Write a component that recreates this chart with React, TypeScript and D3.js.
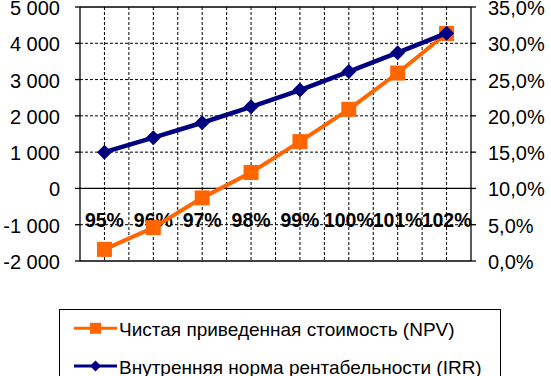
import React from "react";
import * as d3 from "d3";

const categories = ["95%", "96%", "97%", "98%", "99%", "100%", "101%", "102%"];
const npvValues = [-1680, -1080, -260, 440, 1290, 2180, 3180, 4270];
const irrValues = [15.0, 17.0, 19.05, 21.25, 23.55, 26.1, 28.7, 31.4];
const leftTicks = [-2000, -1000, 0, 1000, 2000, 3000, 4000, 5000];
const rightTicks = [0, 5, 10, 15, 20, 25, 30, 35];
const npvLabel = "Чистая приведенная стоимость (NPV)";
const irrLabel = "Внутренняя норма рентабельности (IRR)";

const W = 551, H = 376;
const L = 80, R = 471, T = 7, B = 261;
const ORANGE = "#FF6600";
const NAVY = "#000080";
const FONT = "'Liberation Sans', Arial, sans-serif";

const fmtLeft = (v: number) => {
  const s = Math.abs(v).toString();
  const t = s.length > 3 ? s.slice(0, s.length - 3) + "\u00a0" + s.slice(s.length - 3) : s;
  return (v < 0 ? "-" : "") + t;
};
const fmtRight = (v: number) => v.toFixed(1).replace(".", ",") + "%";

export default function App() {
  const x = d3.scaleBand<string>().domain(categories).range([L, R]).paddingInner(0).paddingOuter(0);
  const yL = d3.scaleLinear().domain([-2000, 5000]).range([B, T]);
  const yR = d3.scaleLinear().domain([0, 35]).range([B, T]);
  const cx = (c: string) => (x(c) as number) + x.bandwidth() / 2;

  const npvLine = d3.line<number>().x((_, i) => cx(categories[i])).y((d) => yL(d));
  const irrLine = d3.line<number>().x((_, i) => cx(categories[i])).y((d) => yR(d));

  const vGrid: number[] = [];
  categories.forEach((c, i) => {
    vGrid.push(cx(c));
    if (i > 0) vGrid.push(x(c) as number);
  });

  const diamond = (px: number, py: number, r: number) =>
    `M${px},${py - r}L${px + r},${py}L${px},${py + r}L${px - r},${py}Z`;

  return (
    <svg width={W} height={H} style={{ position: "absolute", left: 0, top: 0, background: "#fff" }}>
      <rect x={0} y={0} width={W} height={H} fill="#fff" />
      {leftTicks.filter((t) => t !== 0 && t !== -2000 && t !== 5000).map((t) => (
        <line key={"h" + t} x1={L} x2={R} y1={yL(t)} y2={yL(t)} stroke="#000" strokeWidth={1} strokeDasharray="3,2" />
      ))}
      {vGrid.map((v, i) => (
        <line key={"v" + i} x1={v} x2={v} y1={T} y2={B} stroke="#000" strokeWidth={1} strokeDasharray="3,2" />
      ))}
      <line x1={L} x2={R} y1={T} y2={T} stroke="#000" strokeWidth={1.3} />
      <line x1={L} x2={R} y1={B} y2={B} stroke="#000" strokeWidth={1.3} />
      <line x1={L} x2={L} y1={T} y2={B} stroke="#000" strokeWidth={1.3} />
      <line x1={R} x2={R} y1={T} y2={B} stroke="#000" strokeWidth={1.3} />
      <line x1={L} x2={R} y1={yL(0)} y2={yL(0)} stroke="#000" strokeWidth={1.3} />
      {leftTicks.map((t) => (
        <g key={"lt" + t}>
          <line x1={L - 5} x2={L} y1={yL(t)} y2={yL(t)} stroke="#000" strokeWidth={1.3} />
          <text x={60} y={yL(t) + 1} textAnchor="end" dominantBaseline="central" fontFamily={FONT} fontSize={20} fill="#000">
            {fmtLeft(t)}
          </text>
        </g>
      ))}
      {rightTicks.map((t) => (
        <g key={"rt" + t}>
          <line x1={R} x2={R + 5} y1={yR(t)} y2={yR(t)} stroke="#000" strokeWidth={1.3} />
          <text x={488} y={yR(t) + 1} textAnchor="start" dominantBaseline="central" fontFamily={FONT} fontSize={20} fill="#000">
            {fmtRight(t)}
          </text>
        </g>
      ))}
      {categories.map((c) => (
        <text key={"c" + c} x={cx(c)} y={226.7} textAnchor="middle" fontFamily={FONT} fontWeight="bold" fontSize={19.5} fill="#000">
          {c}
        </text>
      ))}
      <path d={npvLine(npvValues) || ""} fill="none" stroke={ORANGE} strokeWidth={4} />
      {npvValues.map((v, i) => (
        <rect key={"n" + i} x={cx(categories[i]) - 7.5} y={yL(v) - 7.5} width={15} height={15} fill={ORANGE} />
      ))}
      <path d={irrLine(irrValues) || ""} fill="none" stroke={NAVY} strokeWidth={4.5} />
      {irrValues.map((v, i) => (
        <path key={"r" + i} d={diamond(cx(categories[i]), yR(v), 7.5)} fill={NAVY} />
      ))}
      <rect x={59.5} y={309.5} width={441} height={80} fill="none" stroke="#000" strokeWidth={1} />
      <line x1={74} x2={117} y1={328.3} y2={328.3} stroke={ORANGE} strokeWidth={3} />
      <rect x={95.5 - 5.5} y={328.3 - 5.5} width={11} height={11} fill={ORANGE} />
      <text x={119} y={329.5} dominantBaseline="central" fontFamily={FONT} fontSize={19} fill="#000">{npvLabel}</text>
      <line x1={74} x2={117} y1={366} y2={366} stroke={NAVY} strokeWidth={3} />
      <path d={diamond(95.5, 366, 5.5)} fill={NAVY} />
      <text x={119} y={367.2} dominantBaseline="central" fontFamily={FONT} fontSize={19} fill="#000">{irrLabel}</text>
    </svg>
  );
}
